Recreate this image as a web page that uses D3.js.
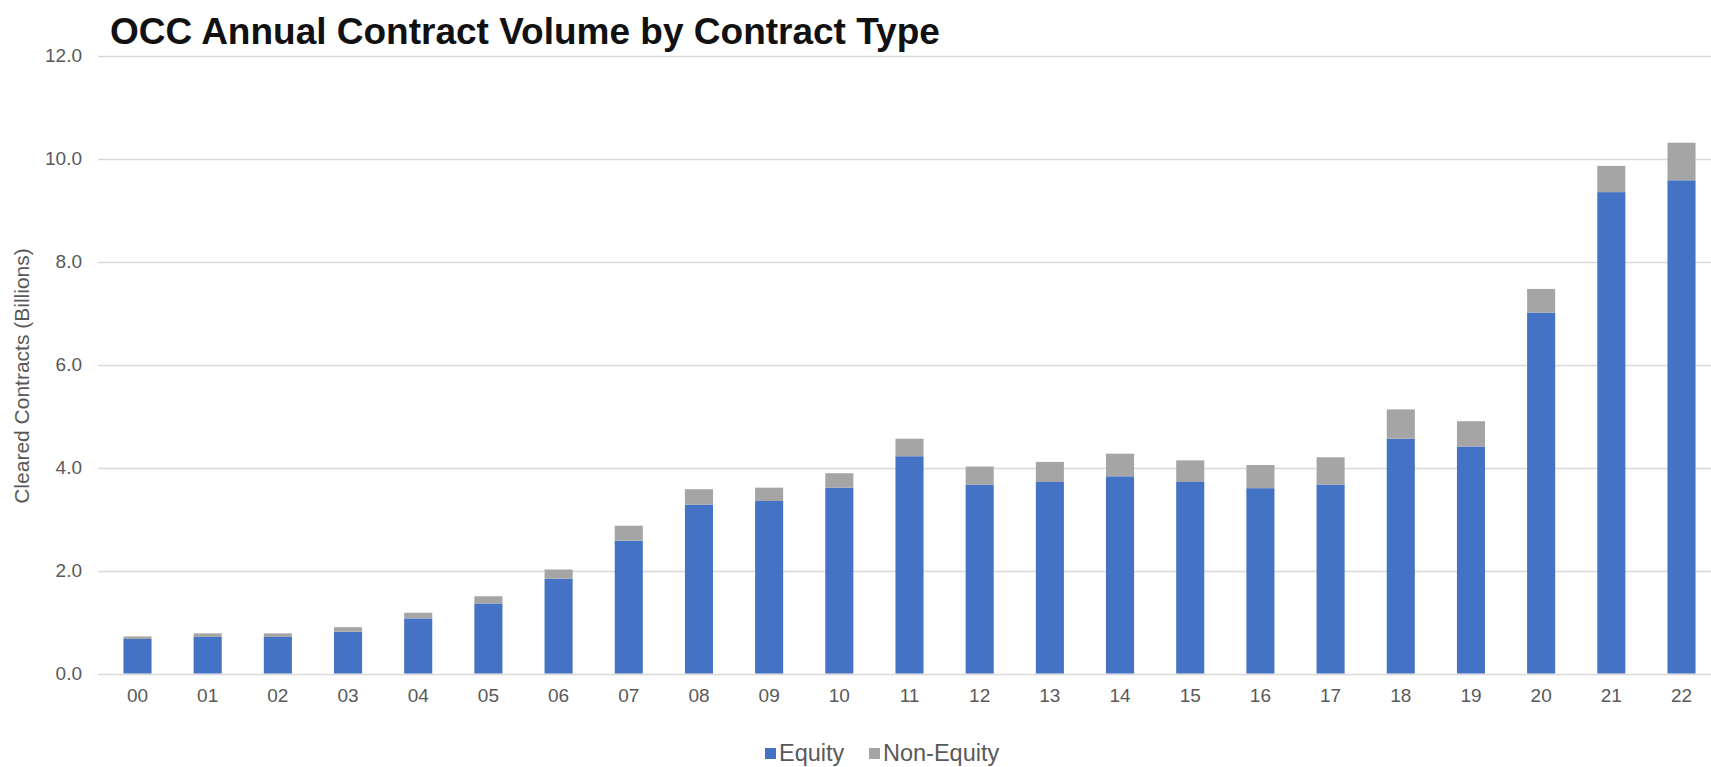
<!DOCTYPE html>
<html>
<head>
<meta charset="utf-8">
<script src="https://cdn.jsdelivr.net/npm/d3@7"></script>
<style>
  html, body { margin: 0; padding: 0; background: #ffffff; }
  svg { display: block; font-family: "Liberation Sans", Arial, sans-serif; }
</style>
</head>
<body>
<svg id="chart" width="1711" height="767"></svg>
<script>
const years = ["00","01","02","03","04","05","06","07","08","09","10","11","12","13","14","15","16","17","18","19","20","21","22"];
const equity = [0.67,0.71,0.71,0.81,1.07,1.36,1.84,2.58,3.28,3.35,3.61,4.22,3.67,3.72,3.83,3.72,3.60,3.67,4.56,4.41,7.01,9.35,9.58];
const nonEquity = [0.05,0.07,0.07,0.09,0.11,0.14,0.18,0.29,0.30,0.26,0.28,0.34,0.35,0.39,0.44,0.42,0.45,0.53,0.57,0.49,0.46,0.51,0.73];
const seriesNames = ["Equity", "Non-Equity"];
const seriesColors = ["#4472C4", "#A5A5A5"];
const yTicks = [0, 2, 4, 6, 8, 10, 12];
const titleText = "OCC Annual Contract Volume by Contract Type";
const yAxisTitle = "Cleared Contracts (Billions)";

const svg = d3.select("#chart");

const rows = years.map((y, i) => ({ year: y, "Equity": equity[i], "Non-Equity": nonEquity[i] }));
const stacked = d3.stack().keys(seriesNames)(rows);

const x = d3.scaleBand().domain(years).range([102.4, 1716.6]).paddingInner(0.6).paddingOuter(0.3);
const y = d3.scaleLinear().domain([0, 12]).range([673.5, 55.7]);

// gridlines
svg.append("g").selectAll("line").data(yTicks).join("line")
  .attr("x1", 98).attr("x2", 1711)
  .attr("y1", d => Math.round(y(d)) + 0.5).attr("y2", d => Math.round(y(d)) + 0.5)
  .attr("stroke", "#d9d9d9").attr("stroke-width", 1.3);

// y axis labels
const yAxis = d3.axisLeft(y).tickValues(yTicks).tickFormat(d3.format(".1f")).tickSize(0).tickPadding(0);
const gy = svg.append("g").attr("transform", "translate(82,0)").call(yAxis);
gy.select(".domain").remove();
gy.selectAll("text").attr("font-size", 19).attr("fill", "#595959").attr("font-family", "'Liberation Sans', Arial, sans-serif");

// bars
svg.append("g").selectAll("g").data(stacked).join("g")
  .attr("fill", (d, i) => seriesColors[i])
  .selectAll("rect").data(d => d).join("rect")
  .attr("x", d => x(d.data.year))
  .attr("width", x.bandwidth())
  .attr("y", d => y(d[1]))
  .attr("height", d => y(d[0]) - y(d[1]));

// x axis labels
const xAxis = d3.axisBottom(x).tickSize(0).tickPadding(0);
const gx = svg.append("g").attr("transform", "translate(0,688)").call(xAxis);
gx.select(".domain").remove();
gx.selectAll("text").attr("font-size", 19).attr("fill", "#595959").attr("font-family", "'Liberation Sans', Arial, sans-serif");

// title
svg.append("text").attr("x", 110).attr("y", 44)
  .attr("font-size", 37).attr("font-weight", "bold").attr("fill", "#111")
  .text(titleText);

// y axis title
svg.append("text")
  .attr("transform", "translate(29,376) rotate(-90)")
  .attr("text-anchor", "middle")
  .attr("font-size", 21).attr("fill", "#595959")
  .text(yAxisTitle);

// legend
const legendX = [765, 869];
const lg = svg.append("g").selectAll("g").data(seriesNames).join("g")
  .attr("transform", (d, i) => `translate(${legendX[i]},0)`);
lg.append("rect").attr("x", 0).attr("y", 748).attr("width", 11).attr("height", 11)
  .attr("fill", (d, i) => seriesColors[i]);
lg.append("text").attr("x", 14).attr("y", 761)
  .attr("font-size", 23.5).attr("fill", "#595959")
  .text(d => d);
</script>
</body>
</html>
